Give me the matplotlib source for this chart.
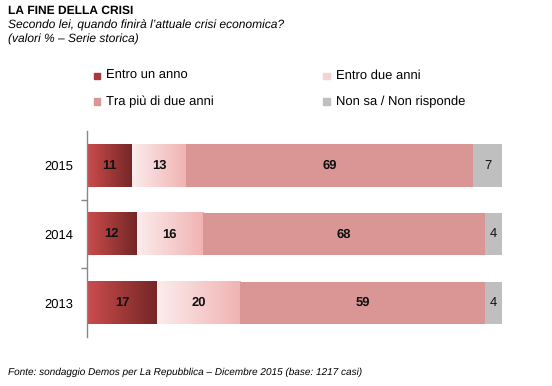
import numpy as np
import matplotlib
matplotlib.use("Agg")
import matplotlib.pyplot as plt
from matplotlib.colors import LinearSegmentedColormap
from matplotlib.patches import Rectangle

plt.rcParams['font.family'] = ['Liberation Sans', 'DejaVu Sans']
plt.rcParams['text.hinting'] = 'no_hinting'
plt.rcParams['text.hinting_factor'] = 1

years = ['2013', '2014', '2015']
series = ['Entro un anno', 'Entro due anni', 'Tra più di due anni', 'Non sa / Non risponde']
entro_un_anno = [17, 12, 11]
entro_due_anni = [20, 16, 13]
tra_piu = [59, 68, 69]
non_sa = [4, 4, 7]
values = [entro_un_anno, entro_due_anni, tra_piu, non_sa]

grad = {0: ('#cc4c4c', '#742626'), 1: ('#fcecec', '#f1b3b3')}
solid = {2: '#d99694', 3: '#bfbfbf'}
legend_col = ['#a83a3a', '#f6d3d3', '#d99694', '#bfbfbf']
label_bold = [True, True, True, False]

fig = plt.figure(figsize=(5.52, 3.86), dpi=100)
ax = fig.add_axes([86.7/552, 1-337.3/386, (502-86.7)/552, (337.3-130.8)/386])

h = 0.62
ypos = np.arange(len(years))
left = np.zeros(len(years))
for si, vals in enumerate(values):
    vals = np.array(vals, dtype=float)
    for yi in range(len(years)):
        x0, w = left[yi], vals[yi]
        if si in grad:
            cmap = LinearSegmentedColormap.from_list('g', grad[si])
            g = np.linspace(0, 1, 64).reshape(1, -1)
            ax.imshow(g, cmap=cmap, aspect='auto', interpolation='bilinear',
                      extent=[x0, x0 + w, ypos[yi] - h/2, ypos[yi] + h/2], zorder=2)
        else:
            ax.barh(ypos[yi], w, left=x0, height=h, color=solid[si], zorder=2)
        ax.text(x0 + w/2, ypos[yi], f'{int(vals[yi])}', ha='center', va='center',
                fontsize=9.5, fontweight='bold' if label_bold[si] else 'normal',
                color='#111111', zorder=3)
    left += vals

ax.set_xlim(0, 100)
ax.set_ylim(-0.5, 2.5)
ax.set_xticks([])
ax.set_yticks(ypos)
ax.set_yticklabels(years, fontsize=9.5)
ax.tick_params(axis='y', which='major', length=0, pad=9.5)
ax.set_yticks([0.5, 1.5], minor=True)
ax.tick_params(axis='y', which='minor', length=4, color='#888888', width=1)
for s in ['top', 'right', 'bottom']:
    ax.spines[s].set_visible(False)
ax.spines['left'].set_color('#888888')
ax.spines['left'].set_linewidth(1)

# Legend (manual)
pos = [(97, 76), (326.5, 76), (97, 101.5), (326.5, 101.5)]
for i, (px, py) in enumerate(pos):
    sq = 6.5
    fig.patches.append(Rectangle(((px - sq/2)/552, 1-(py + sq/2)/386), sq/552, sq/386,
                                 transform=fig.transFigure, color=legend_col[i]))
    fig.text((px + 9.5)/552, 1-py/386, series[i], fontsize=9.2, va='center', ha='left')

fig.text(8/552, 1-11/386, 'LA FINE DELLA CRISI', fontsize=8.7, fontweight='bold', va='center')
fig.text(8/552, 1-25/386, 'Secondo lei, quando finirà l\u2019attuale crisi economica?',
         fontsize=8.7, style='italic', va='center')
fig.text(8/552, 1-39/386, '(valori % \u2013 Serie storica)', fontsize=8.7, style='italic', va='center')
fig.text(8/552, 1-372/386,
         'Fonte: sondaggio Demos per La Repubblica \u2013 Dicembre 2015 (base: 1217 casi)',
         fontsize=7.3, style='italic', va='center')

fig.savefig('out.png', dpi=100)
